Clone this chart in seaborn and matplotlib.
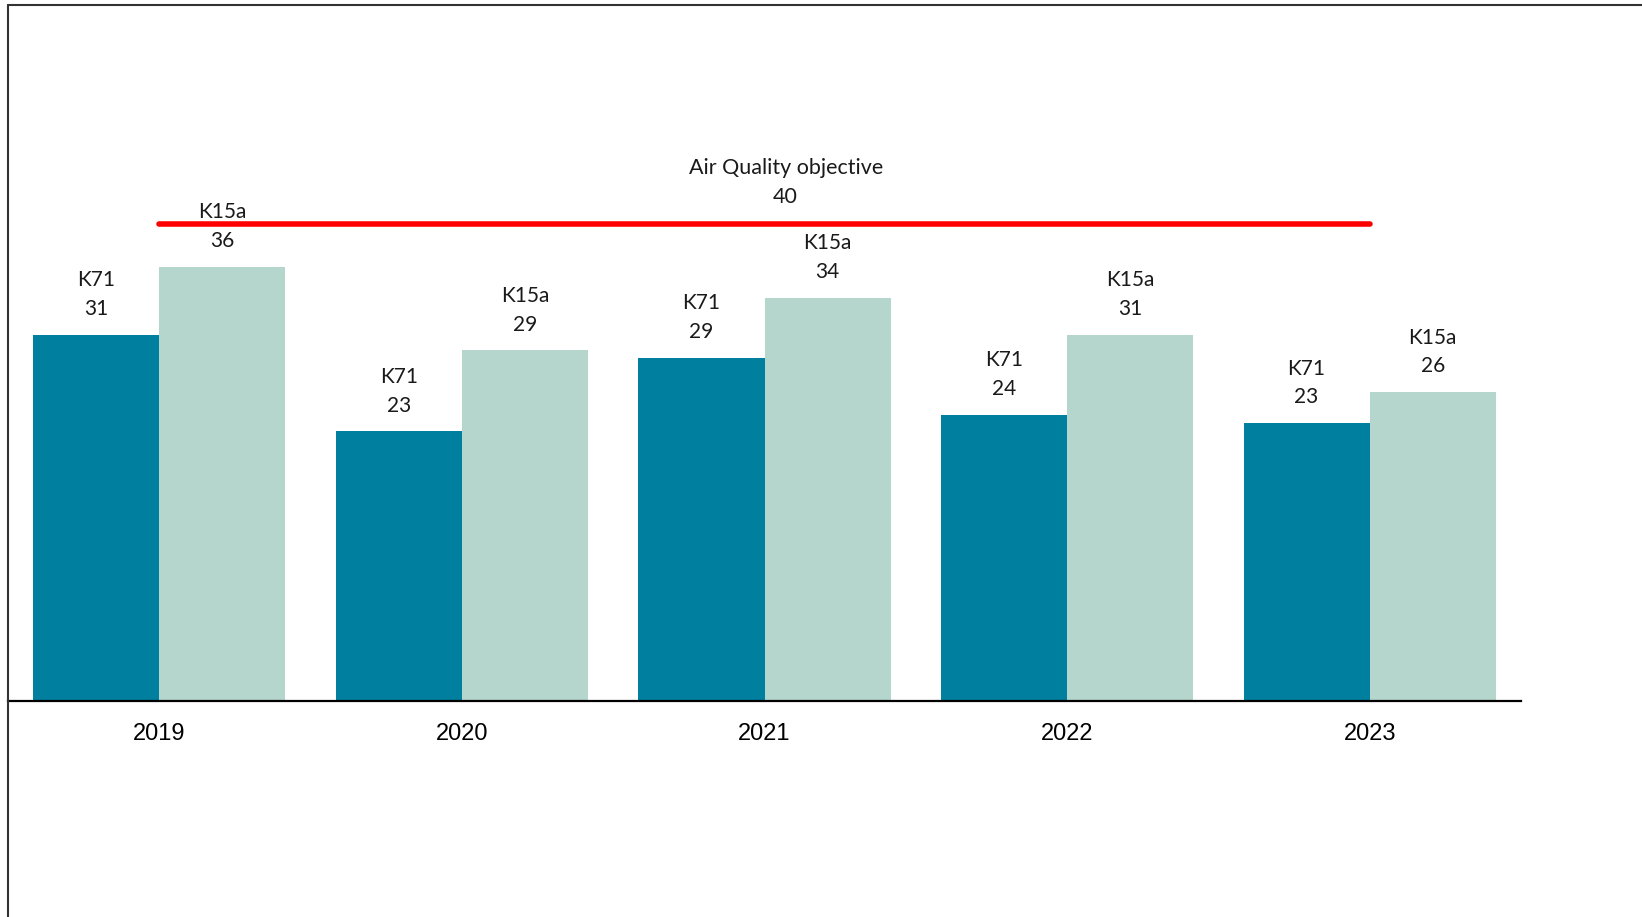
import matplotlib
matplotlib.use("Agg")
import matplotlib.pyplot as plt
from matplotlib.lines import Line2D
import seaborn as sns
import pandas as pd

# ---- data ----
years = ["2019", "2020", "2021", "2022", "2023"]
stations = ["K71", "K15a"]
k71_values = [30.7, 22.6, 28.8, 24.0, 23.3]
k15a_values = [36.4, 29.4, 33.8, 30.7, 25.9]
objective_value = 40
objective_label = "Air Quality objective"

colors = {"K71": "#00809E", "K15a": "#B4D6CC"}

df = pd.DataFrame({
    "year": years * 2,
    "station": ["K71"] * len(years) + ["K15a"] * len(years),
    "value": k71_values + k15a_values,
})

sns.set_theme(style="white")
plt.rcParams["font.family"] = ["Lato", "DejaVu Sans"]

W, H = 1642, 917
fig = plt.figure(figsize=(W / 100, H / 100), dpi=100)
fig.patch.set_facecolor("white")

# axes placement (pixel based)
ax_left, ax_right, ax_base, ax_top = 8, 1521, 701, 5
ax = fig.add_axes([ax_left / W, (H - ax_base) / H, (ax_right - ax_left) / W, (ax_base - ax_top) / H])
ax.set_facecolor("none")

sns.barplot(data=df, x="year", y="value", hue="station", order=years, hue_order=stations,
            palette=colors, width=0.834, gap=0, saturation=1, linewidth=0,
            legend=False, ax=ax)

ax.set_xlim(-0.5, 4.5)
ax.set_ylim(0, (ax_base - ax_top) / 11.925)
ax.set_xlabel("")
ax.set_ylabel("")
ax.set_yticks([])
for s in ["left", "right", "top"]:
    ax.spines[s].set_visible(False)
ax.spines["bottom"].set_color("black")
ax.spines["bottom"].set_linewidth(1.6)
ax.tick_params(axis="x", length=0, pad=15.5)
for lab in ax.get_xticklabels():
    lab.set_fontfamily(["Liberation Sans", "DejaVu Sans"])
    lab.set_fontsize(17)
    lab.set_color("black")

# bar labels
for cont, name in zip(ax.containers, stations):
    for bar in cont:
        x = bar.get_x() + bar.get_width() / 2
        h = bar.get_height()
        ax.annotate(f"{h:.0f}", (x, h), xytext=(0, 18.5), textcoords="offset points",
                    ha="center", va="center", fontsize=15, color="#1a1a1a")
        ax.annotate(name, (x, h), xytext=(0, 39.2), textcoords="offset points",
                    ha="center", va="center", fontsize=15, color="#1a1a1a")

# objective line
ax.plot([0, len(years) - 1], [objective_value, objective_value], color="#FF0000",
        lw=4, solid_capstyle="round", zorder=5)
ax.annotate(objective_label, (2.07, objective_value), xytext=(0, 40.3), textcoords="offset points",
            ha="center", va="center", fontsize=15.5, color="#1a1a1a")
ax.annotate(f"{objective_value}", (2.07, objective_value), xytext=(0, 19.5), textcoords="offset points",
            ha="center", va="center", fontsize=15.5, color="#1a1a1a")

# outer frame (top and left edges)
fx = 8 / W
fy = 1 - 5 / H
fig.add_artist(Line2D([fx, 1.0], [fy, fy], transform=fig.transFigure, color="#333333", lw=1.5))
fig.add_artist(Line2D([fx, fx], [0.0, fy], transform=fig.transFigure, color="#333333", lw=1.5))

fig.savefig("out.png", dpi=100)
